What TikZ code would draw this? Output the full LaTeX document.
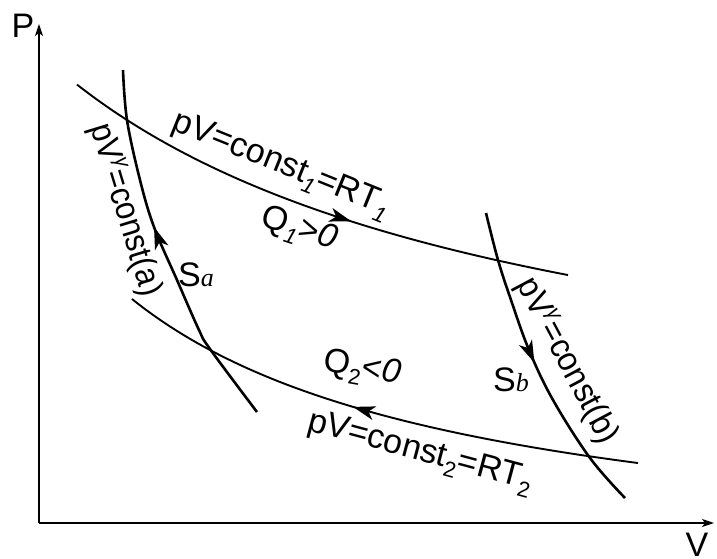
\documentclass[tikz,border=0pt]{standalone}
\usepackage{fontspec}
\setmainfont{Liberation Sans}
\newfontfamily\tnrfont{Liberation Serif}
\usetikzlibrary{arrows.meta,decorations.markings}
\newcommand{\lsub}[1]{\raisebox{-0.26em}{\fontsize{22}{22}\selectfont #1}}
\newcommand{\lsup}[1]{\raisebox{0.40em}{\fontsize{22}{22}\selectfont #1}}
\newcommand{\ssub}[1]{{\tnrfont\itshape\fontsize{26}{26}\selectfont #1}}
\begin{document}
\begin{tikzpicture}[x=1pt,y=-1pt,
  font=\fontsize{34}{40}\selectfont,
  axis/.style={line width=1.3pt,-{Stealth[length=12pt,width=8pt,inset=3pt]}},
  iso/.style={line width=1.9pt},
  adia/.style={line width=2.6pt},
  lbl/.style={inner sep=0pt,anchor=center},
  flowmark/.style={postaction={decorate,decoration={markings,
    mark=at position #1 with {\arrow{Stealth[length=22pt,width=14pt,inset=6pt]}}}}}
]
\useasboundingbox (0,0) rectangle (717,559);
% axes
\coordinate (O) at (39,523);
\coordinate (Ptip) at (39,24);
\coordinate (Vtip) at (714,523);
\draw[axis] (O) -- (Ptip);
\draw[axis] (O) -- (Vtip);
\node[lbl] (Plbl) at (23,26) {P};
\node[lbl] (Vlbl) at (697,545) {V};
% isotherms
\draw[iso,flowmark=0.58] plot[domain=77:568,samples=80] (\x,{462.7-1829.6/((\x+406.9)/100)});
\draw[iso,flowmark=0.54] plot[domain=638:132,samples=80] (\x,{574.2-943.82/((\x+211)/100)});
% adiabats
\draw[adia,flowmark=0.57] plot[smooth,tension=0.6] coordinates {(257,412) (210,349) (199,330) (177,280) (154,227) (140,180) (127,120) (123,70)};
\draw[adia,flowmark=0.49] plot[smooth,tension=0.6] coordinates {(486,213) (498,260) (511,300) (529,350) (553,400) (590,458) (625,498)};
% labels
\node[lbl,rotate=-22] (isoOne) at (281,166) {pV=const\lsub{\textit{1}}=RT\lsub{\textit{1}}};
\node[lbl,rotate=-18] (qOne) at (299,230) {Q\lsub{\textit{1}}>\textit{0}};
\node[lbl,rotate=-10] (qTwo) at (362,370) {Q\lsub{2}<\textit{0}};
\node[lbl,rotate=-15] (isoTwo) at (420,453) {pV=const\lsub{2}=RT\lsub{2}};
\node[lbl,rotate=-73] (adA) at (125,210) {\scalebox{0.91}[1]{pV\lsup{\textit{γ}}=const(a)}};
\node[lbl,rotate=-62] (adB) at (567,361) {\scalebox{0.93}[1]{pV\lsup{\textit{γ}}=const(b)}};
\node[lbl] (sA) at (196,275) {S\ssub{a}};
\node[lbl] (sB) at (511,380) {S\ssub{b}};
\end{tikzpicture}
\end{document}
